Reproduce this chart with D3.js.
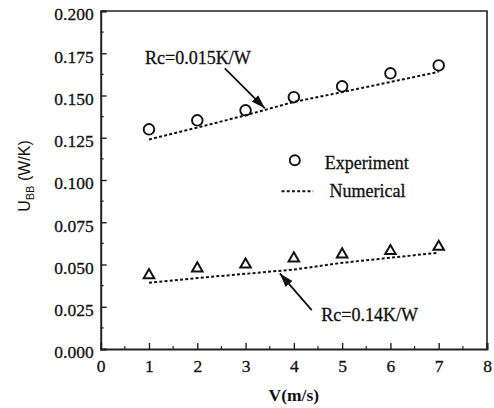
<!DOCTYPE html>
<html><head><meta charset="utf-8">
<script src="https://cdn.jsdelivr.net/npm/d3@7"></script>
<style>
html,body{margin:0;padding:0;background:#fff;}
svg{display:block;}
text{font-family:"Liberation Serif","Times New Roman",serif;fill:#111;}
</style></head>
<body>
<script>
const velocity = [1, 2, 3, 4, 5, 6, 7];
const expHigh = [0.1300, 0.1353, 0.1412, 0.1490, 0.1554, 0.1631, 0.1678];
const numHigh = [0.1240, 0.1310, 0.1383, 0.1462, 0.1520, 0.1580, 0.1640];
const expLow = [0.0437, 0.0477, 0.0500, 0.0536, 0.0560, 0.0580, 0.0605];
const numLow = [0.0392, 0.0420, 0.0445, 0.0470, 0.0510, 0.0540, 0.0570];
const xTicks = [0, 1, 2, 3, 4, 5, 6, 7, 8];
const yTicks = [0, 0.025, 0.05, 0.075, 0.1, 0.125, 0.15, 0.175, 0.2];
const yTickLabels = ["0.000","0.025","0.050","0.075","0.100","0.125","0.150","0.175","0.200"];
const annotations = [
  {text: "Rc=0.015K/W", x: 0.92, y: 0.1686, tail: [2.57, 0.1661], head: [3.40, 0.1424]},
  {text: "Rc=0.14K/W", x: 4.57, y: 0.0163, tail: [4.37, 0.0230], head: [3.71, 0.0447]}
];
const legendItems = ["Experiment", "Numerical"];

const W = 494, H = 408;
const m = {left: 100.7, right: 7, top: 11, bottom: 59};
const svg = d3.select("body").append("svg").attr("width", W).attr("height", H);

const x = d3.scaleLinear().domain([0, 8]).range([m.left, W - m.right]);
const y = d3.scaleLinear().domain([0, 0.2]).range([H - m.bottom, m.top]);

const defs = svg.append("defs");
defs.append("marker").attr("id", "ah").attr("viewBox", "0 0 14 10")
  .attr("refX", 14).attr("refY", 5).attr("markerWidth", 14).attr("markerHeight", 10)
  .attr("markerUnits", "userSpaceOnUse").attr("orient", "auto")
  .append("path").attr("d", "M0,0.5 L14,5 L0,9.5 Z").attr("fill", "#111");

// frame top and right
svg.append("path")
  .attr("d", `M${x(0)},${y(0.2)} H${x(8)} V${y(0)}`)
  .attr("fill", "none").attr("stroke", "#222").attr("stroke-width", 1.6);

// x axis
const xAxis = svg.append("g").attr("transform", `translate(0,${y(0)})`)
  .call(d3.axisBottom(x).tickValues(xTicks).tickSize(-6).tickPadding(12).tickFormat(d3.format("d")));
xAxis.append("g").selectAll("line").data(d3.range(0.5, 8, 1)).join("line")
  .attr("x1", d => x(d)).attr("x2", d => x(d)).attr("y1", 0).attr("y2", -3)
  .attr("stroke", "#222").attr("stroke-width", 1.2);

// y axis
const yAxis = svg.append("g").attr("transform", `translate(${x(0)},0)`)
  .call(d3.axisLeft(y).tickValues(yTicks).tickSize(-6).tickPadding(7).tickFormat((d, i) => yTickLabels[i]));
yAxis.append("g").selectAll("line").data(d3.range(0.0125, 0.2, 0.025)).join("line")
  .attr("x1", 0).attr("x2", 3).attr("y1", d => y(d)).attr("y2", d => y(d))
  .attr("stroke", "#222").attr("stroke-width", 1.2);

[xAxis, yAxis].forEach(g => {
  g.attr("font-family", null);
  g.select(".domain").attr("stroke", "#222").attr("stroke-width", 2);
  g.selectAll(".tick line").attr("stroke", "#222").attr("stroke-width", 1.4);
  g.selectAll(".tick text")
    .style("font-family", "'Liberation Serif','Times New Roman',serif")
    .style("font-size", "17.5px")
    .attr("fill", "#111").attr("stroke", "#111").attr("stroke-width", 0.3);
});
yAxis.selectAll(".tick text").attr("dy", "0.5em");
xAxis.selectAll(".tick text").attr("dy", "0.6em");

// axis titles
svg.append("text").attr("x", x(4)).attr("y", 401).attr("text-anchor", "middle")
  .attr("font-size", 17.5).attr("font-weight", "bold").text("V(m/s)");
const yt = svg.append("text").attr("transform", `translate(30,176) rotate(-90)`)
  .attr("text-anchor", "middle").style("font-family", "'Liberation Sans',Arial,sans-serif")
  .attr("font-size", 16);
yt.append("tspan").text("U");
yt.append("tspan").attr("font-size", 11).attr("dy", 4).text("BB");
yt.append("tspan").attr("dy", -4).text(" (W/K)");

// numerical lines
const line = d3.line().x((d, i) => x(velocity[i])).y(d => y(d));
[numHigh, numLow].forEach(vals => {
  svg.append("path").attr("d", line(vals)).attr("fill", "none")
    .attr("stroke", "#111").attr("stroke-width", 2).attr("stroke-dasharray", "3,2.2");
});

// experiment circles
svg.append("g").selectAll("circle").data(expHigh).join("circle")
  .attr("cx", (d, i) => x(velocity[i])).attr("cy", d => y(d)).attr("r", 5.3)
  .attr("fill", "none").attr("stroke", "#111").attr("stroke-width", 1.9);

// experiment triangles
const tri = d3.symbol().type(d3.symbolTriangle).size(48);
svg.append("g").selectAll("path").data(expLow).join("path")
  .attr("d", tri).attr("transform", (d, i) => `translate(${x(velocity[i])},${y(d)})`)
  .attr("fill", "none").attr("stroke", "#111").attr("stroke-width", 2);

// annotations
annotations.forEach(a => {
  svg.append("text").attr("x", x(a.x)).attr("y", y(a.y)).attr("font-size", 18)
    .attr("stroke", "#111").attr("stroke-width", 0.3).text(a.text);
  svg.append("line").attr("x1", x(a.tail[0])).attr("y1", y(a.tail[1]))
    .attr("x2", x(a.head[0])).attr("y2", y(a.head[1]))
    .attr("stroke", "#111").attr("stroke-width", 1.8).attr("marker-end", "url(#ah)");
});

// legend
svg.append("circle").attr("cx", x(4.02)).attr("cy", y(0.1117)).attr("r", 5)
  .attr("fill", "none").attr("stroke", "#111").attr("stroke-width", 1.9);
svg.append("text").attr("x", x(4.64)).attr("y", y(0.1068)).attr("font-size", 18)
  .attr("stroke", "#111").attr("stroke-width", 0.3).text(legendItems[0]);
svg.append("line").attr("x1", x(3.745)).attr("x2", x(4.40)).attr("y1", y(0.0934)).attr("y2", y(0.0934))
  .attr("stroke", "#111").attr("stroke-width", 2).attr("stroke-dasharray", "3,2.2");
svg.append("text").attr("x", x(4.74)).attr("y", y(0.0898)).attr("font-size", 18)
  .attr("stroke", "#111").attr("stroke-width", 0.3).text(legendItems[1]);
</script>
</body></html>
